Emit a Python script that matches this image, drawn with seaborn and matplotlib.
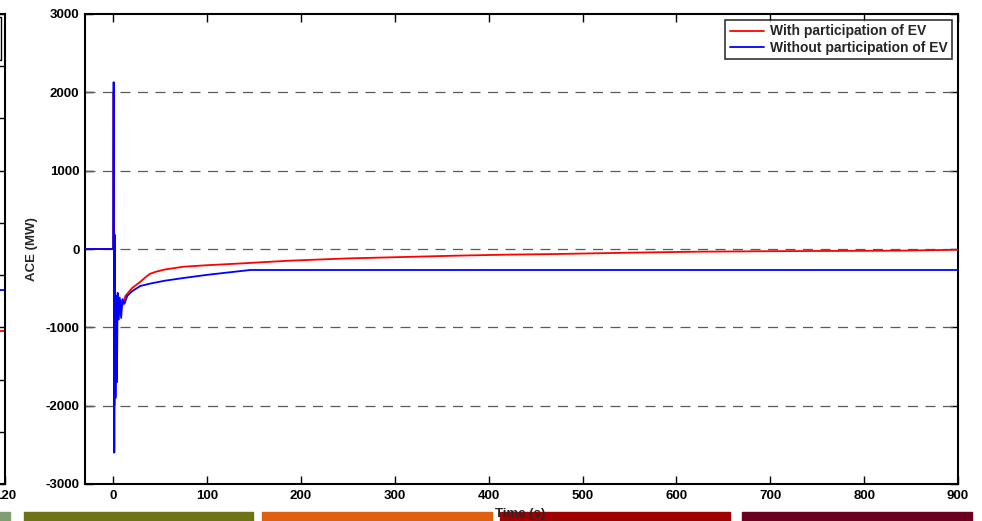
import numpy as np
import pandas as pd
import matplotlib
matplotlib.use("Agg")
import matplotlib.pyplot as plt
from matplotlib.patches import Rectangle
import seaborn as sns

# ACE response after the load disturbance (time in s, ACE in MW)
t_with = [-30, 0, 0.5, 1.3, 2.5, 3.5, 5, 6.5, 8, 10, 13, 20, 25, 29, 34, 39, 45, 55,
          75, 100, 135, 188, 250, 300, 366, 420, 472, 550, 625, 700, 838, 900]
ace_with = [0, 0, 2000, -2000, -1000, -850, -700, -820, -650, -720, -600, -500, -455,
            -417, -365, -318, -292, -262, -226, -207, -185, -149, -120, -105, -85,
            -72, -64, -47, -34, -28, -21, -10]

t_without = [-30, 0, 0.5, 1.2, 1.8, 2.5, 3.2, 4, 4.8, 6, 7, 8.5, 10, 12, 15, 20, 29,
             40, 55, 75, 100, 146, 900]
ace_without = [0, 0, 2130, -2600, 180, -1900, -600, -1700, -560, -900, -620, -880,
               -640, -700, -600, -540, -472, -440, -405, -370, -330, -268, -268]

series_labels = ["With participation of EV", "Without participation of EV"]
series_colors = ["#ff0000", "#0000ff"]

x_ticks = [0, 100, 200, 300, 400, 500, 600, 700, 800, 900]
y_ticks = [-3000, -2000, -1000, 0, 1000, 2000, 3000]
grid_levels = [-2000, -1000, 0, 1000, 2000]

# neighbouring panel (only its right edge shows)
side_levels = [3.71, 2.93]

# strip of coloured bars along the bottom
bar_spans = [(-20, 10), (24, 253), (262, 492), (500, 730), (742, 972)]
bar_colors = ["#7f9f73", "#6f7318", "#e06010", "#a00000", "#6b0020"]

df = pd.concat([
    pd.DataFrame({"Time": t_with, "ACE": ace_with, "Case": series_labels[0]}),
    pd.DataFrame({"Time": t_without, "ACE": ace_without, "Case": series_labels[1]}),
])

sns.set_theme(style="ticks")
plt.rcParams["font.family"] = ["Liberation Sans", "DejaVu Sans"]
plt.rcParams["font.weight"] = "bold"

W, H = 982, 521
fig = plt.figure(figsize=(W / 100, H / 100), dpi=100)
fig.patch.set_facecolor("white")

# background layer holding the coloured strip
bg = fig.add_axes([0, 0, 1, 1], zorder=-5)
bg.set_xlim(0, W)
bg.set_ylim(H, 0)
bg.axis("off")
for (x0, x1), c in zip(bar_spans, bar_colors):
    bg.add_patch(Rectangle((x0, 512), x1 - x0, 10, color=c, clip_on=False))

ax = fig.add_axes([85 / W, 37 / H, 873 / W, 470 / H])
ax.patch.set_alpha(0)

for lvl in grid_levels:
    ax.axhline(lvl, color="#5a5a5a", lw=0.9, dashes=(8, 6), zorder=1)

sns.lineplot(data=df, x="Time", y="ACE", hue="Case", hue_order=series_labels,
             palette=series_colors, estimator=None, sort=False, lw=1.3, ax=ax,
             zorder=3)

ax.set_xlim(-30, 900)
ax.set_ylim(-3000, 3000)
ax.set_xticks(x_ticks)
ax.set_yticks(y_ticks)
ax.set_xticklabels([str(v) for v in x_ticks], fontsize=9.5, fontweight="bold")
ax.set_yticklabels([str(v) for v in y_ticks], fontsize=9.5, fontweight="bold")
ax.tick_params(direction="in", length=6, width=1, top=True, right=True,
               colors="black", pad=4)
for s in ax.spines.values():
    s.set_linewidth(1.5)
    s.set_color("black")
ax.set_xlabel("")
ax.set_ylabel("ACE (MW)", fontsize=9.5, fontweight="bold", labelpad=5)

leg = ax.legend(loc="upper right", fontsize=10, frameon=True, fancybox=False,
                handlelength=2.5, handletextpad=0.4, borderpad=0.3,
                labelspacing=0.2, borderaxespad=0.45)
leg.get_frame().set_edgecolor("black")
leg.get_frame().set_linewidth(1.2)
for txt in leg.get_texts():
    txt.set_fontweight("bold")
for ln in leg.get_lines():
    ln.set_linewidth(1.3)

# right edge of the neighbouring panel
ax2 = fig.add_axes([-0.3, 37 / H, 0.3 + 5 / W, 470 / H])
ax2.set_xlim(0, 120)
ax2.set_ylim(0, 9)
ax2.axhline(side_levels[0], color=series_colors[1], lw=1.3)
ax2.axhline(side_levels[1], color=series_colors[0], lw=1.3)
ax2.set_yticks(range(10))
ax2.set_yticklabels([])
ax2.set_xticks([120])
ax2.set_xticklabels(["120"], fontsize=9.5, fontweight="bold")
ax2.tick_params(direction="in", length=6, width=1, left=False, right=True,
                colors="black", pad=4)
for s in ax2.spines.values():
    s.set_linewidth(1.5)
    s.set_color("black")

# corner of that panel's legend frame
fig.patches.append(Rectangle((-0.1, 1 - 60 / H), 0.1 + 1 / W, 43 / H,
                             transform=fig.transFigure, fill=False,
                             ec="black", lw=1.0, zorder=5))

fig.text(520 / W, 1 - 516.5 / H, "Time (s)", ha="center", va="baseline",
         fontsize=9.5, fontweight="bold", zorder=10)

fig.savefig("out.png", dpi=100, facecolor="white")
